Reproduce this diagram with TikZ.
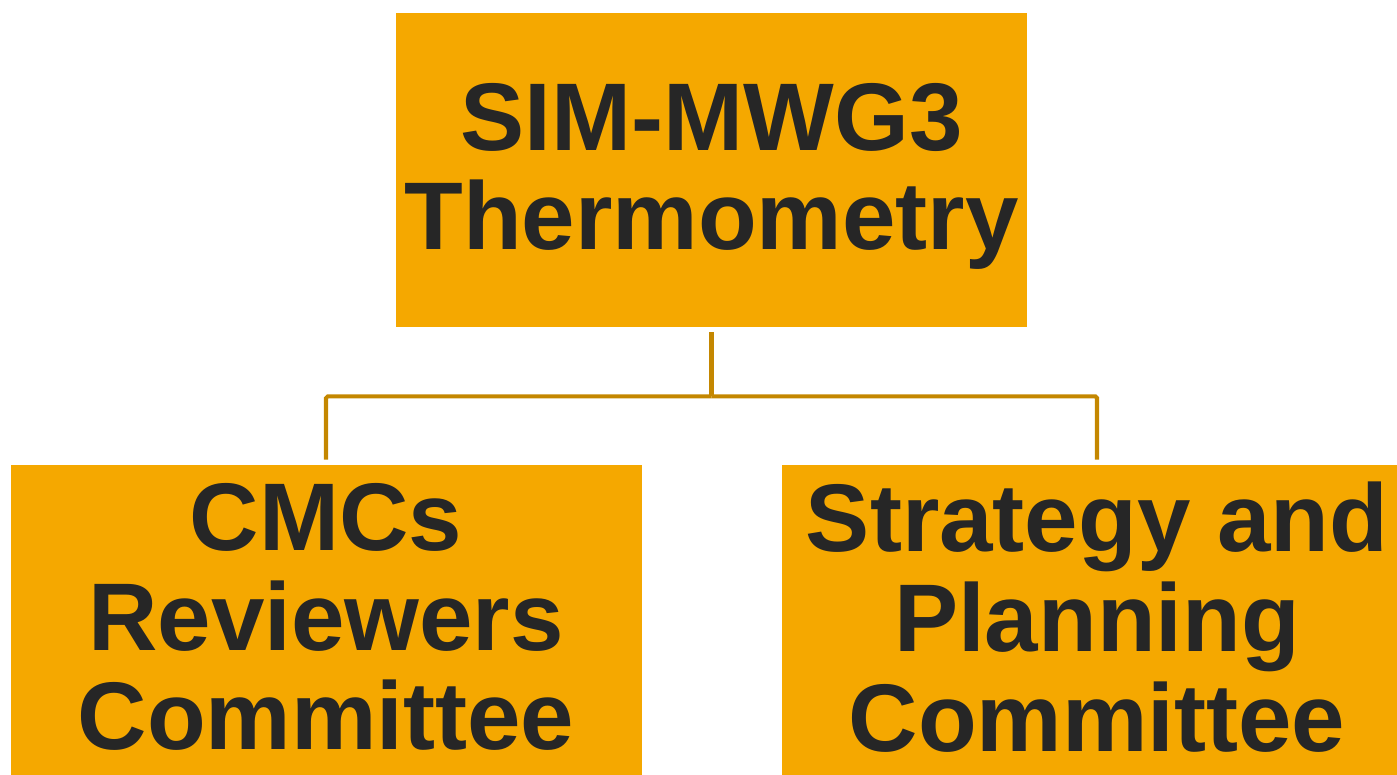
\documentclass[tikz,border=0pt]{standalone}
\usepackage{fontspec}
\setmainfont{Liberation Sans}
\definecolor{boxfill}{RGB}{245,168,0}
\definecolor{linkgold}{RGB}{196,135,0}
\definecolor{inkgray}{RGB}{38,38,38}
\tikzset{
    unit/.style={fill=boxfill, draw=none, minimum width=12.62cm, minimum height=6.28cm,
        align=center, inner sep=0pt, text=inkgray,
        font=\fontsize{54.7}{56.7}\selectfont\bfseries},
    link/.style={draw=linkgold, line width=2.3pt, rounded corners=1pt}
}
\newcommand{\lowstrut}{\rule[-6pt]{0pt}{1pt}}
\begin{document}
\begin{tikzpicture}
        \useasboundingbox (0,0) rectangle (27.94,-15.5);
        \clip (0,0) rectangle (27.94,-15.5);
        % working group and its committees
        \node[unit] (mwg)  at (14.23,-3.40)  {\rule{0pt}{45.5pt}SIM-MWG3\\Thermometry};
        \node[unit] (cmc)  at (6.52,-12.44)  {CMCs\\Reviewers\\Committee\lowstrut};
        \node[unit] (plan) at (21.94,-12.44) {Strategy and\\Planning\\Committee\lowstrut};

        % org chart links
        \draw[link] ([yshift=-0.1cm]mwg.south) -- ++(0,-1.28cm) coordinate (fork);
        \draw[link] (fork) -| ([yshift=0.1cm]cmc.north);
        \draw[link] (fork) -| ([yshift=0.1cm]plan.north);
    \end{tikzpicture}
\end{document}
